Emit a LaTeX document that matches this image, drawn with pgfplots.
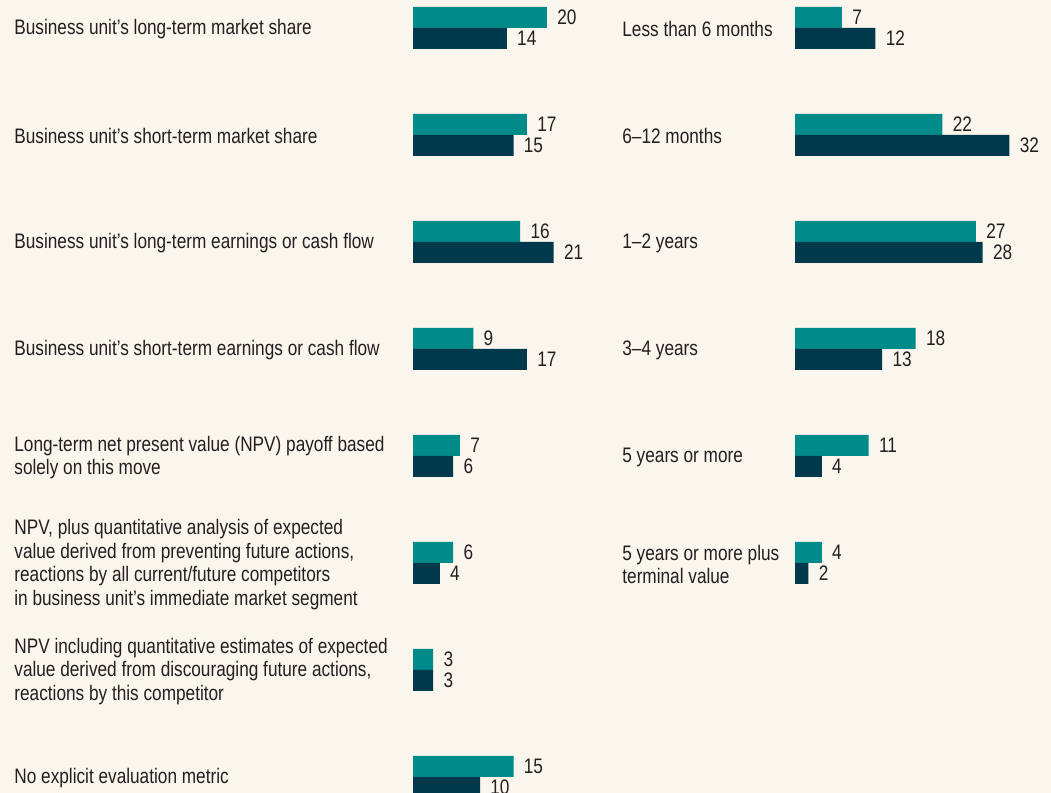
\documentclass[border=0pt]{standalone}
\usepackage{fontspec}
\setmainfont{Liberation Sans}[FakeStretch=0.82]
\usepackage{pgfplots}
\pgfplotsset{compat=1.18}
\definecolor{bg}{HTML}{FAF6EE}
\definecolor{teal1}{HTML}{008B8B}
\definecolor{navy1}{HTML}{00384C}
\definecolor{txt}{HTML}{231F20}
\newcommand{\lf}{\fontsize{10.5}{11.9}\selectfont}
\begin{document}
\begin{tikzpicture}[x=1pt,y=1pt]
\useasboundingbox (0,0) rectangle (525.5,396.5);
\fill[bg] (0,0) rectangle (525.5,396.5);
\pgfplotsset{mybars/.style={xbar, bar width=10.5pt, hide axis, clip=false,
  scale only axis, height=396.5pt, ymin=-0.149533, ymax=7.261682, xmin=0,
  anchor=south west,
  nodes near coords,
  nodes near coords style={font=\lf, text=txt, anchor=west, inner sep=0pt, xshift=5pt},
  /pgf/number format/assume math mode=true}}
\begin{scope}
\clip (0,0) rectangle (525.5,396.5);
\begin{axis}[mybars, at={(206.5pt,0pt)}, width=83.75pt, xmax=25]
\addplot[fill=teal1, draw=none, bar shift=5.25pt] coordinates {(20,7) (17,6) (16,5) (9,4) (7,3) (6,2) (3,1) (15,0)};
\addplot[fill=navy1, draw=none, bar shift=-5.25pt] coordinates {(14,7) (15,6) (21,5) (17,4) (6,3) (4,2) (3,1) (10,0)};
\end{axis}
\begin{axis}[mybars, at={(397.5pt,0pt)}, width=117.25pt, xmax=35]
\addplot[fill=teal1, draw=none, bar shift=5.25pt] coordinates {(7,7) (22,6) (27,5) (18,4) (11,3) (4,2)};
\addplot[fill=navy1, draw=none, bar shift=-5.25pt] coordinates {(12,7) (32,6) (28,5) (13,4) (4,3) (2,2)};
\end{axis}
\end{scope}
\begin{scope}[yshift=-0.75pt, every node/.style={anchor=west, inner sep=0pt, align=left, font=\lf, text=txt}]
\node at (7,382.5) {Business unit’s long-term market share};
\node at (7,329) {Business unit’s short-term market share};
\node at (7,275.5) {Business unit’s long-term earnings or cash flow};
\node at (7,222) {Business unit’s short-term earnings or cash flow};
\node at (7,168.5) {Long-term net present value (NPV) payoff based\\solely on this move};
\node at (7,115) {NPV, plus quantitative analysis of expected\\value derived from preventing future actions,\\reactions by all current/future competitors\\in business unit’s immediate market segment};
\node at (7,61.5) {NPV including quantitative estimates of expected\\value derived from discouraging future actions,\\reactions by this competitor};
\node at (7,8) {No explicit evaluation metric};
\node at (311,382.5) {Less than 6 months};
\node at (311,329) {6–12 months};
\node at (311,275.5) {1–2 years};
\node at (311,222) {3–4 years};
\node at (311,168.5) {5 years or more};
\node at (311,115) {5 years or more plus\\terminal value};
\end{scope}
\end{tikzpicture}
\end{document}
